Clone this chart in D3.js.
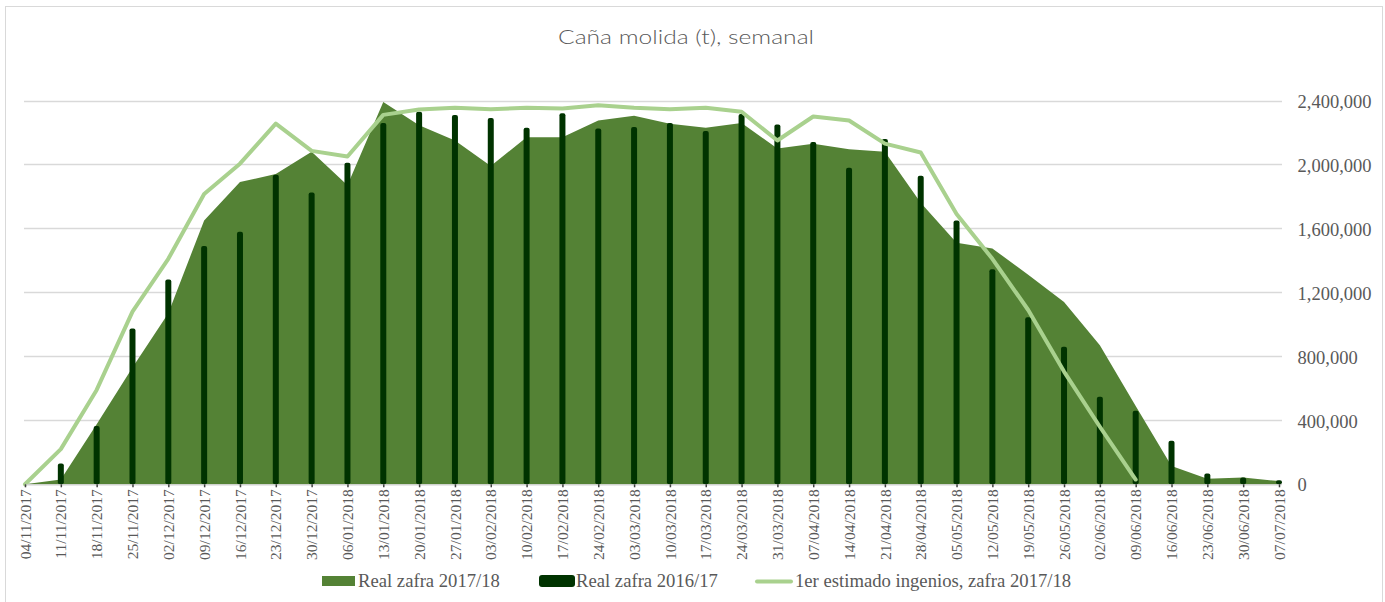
<!DOCTYPE html>
<html>
<head>
<meta charset="utf-8">
<script src="https://cdnjs.cloudflare.com/ajax/libs/d3/7.8.5/d3.min.js"></script>
<style>
  html, body { margin: 0; padding: 0; background: #ffffff; }
  svg { display: block; }
</style>
</head>
<body>
<svg id="chart" width="1385" height="602"></svg>
<script>
// ---------- DATA ----------
const categories = [
  "04/11/2017","11/11/2017","18/11/2017","25/11/2017","02/12/2017","09/12/2017","16/12/2017",
  "23/12/2017","30/12/2017","06/01/2018","13/01/2018","20/01/2018","27/01/2018","03/02/2018",
  "10/02/2018","17/02/2018","24/02/2018","03/03/2018","10/03/2018","17/03/2018","24/03/2018",
  "31/03/2018","07/04/2018","14/04/2018","21/04/2018","28/04/2018","05/05/2018","12/05/2018",
  "19/05/2018","26/05/2018","02/06/2018","09/06/2018","16/06/2018","23/06/2018","30/06/2018",
  "07/07/2018"
];
const real1718 = [
  0, 30000, 375000, 730000, 1070000, 1650000, 1890000, 1940000, 2080000, 1870000,
  2390000, 2245000, 2150000, 1990000, 2170000, 2170000, 2275000, 2305000, 2255000, 2230000,
  2260000, 2100000, 2130000, 2095000, 2080000, 1760000, 1510000, 1475000, 1310000, 1140000,
  870000, 490000, 115000, 35000, 42000, 20000
];
const real1617 = [
  0, 130000, 365000, 975000, 1280000, 1490000, 1580000, 1935000, 1825000, 2010000,
  2260000, 2330000, 2310000, 2290000, 2230000, 2320000, 2225000, 2235000, 2260000, 2210000,
  2315000, 2250000, 2140000, 1980000, 2160000, 1930000, 1650000, 1345000, 1045000, 860000,
  548000, 460000, 272000, 68000, 42000, 25000
];
const estimado = [
  0, 220000, 590000, 1080000, 1410000, 1815000, 2005000, 2255000, 2085000, 2050000,
  2310000, 2344000, 2355000, 2345000, 2355000, 2350000, 2370000, 2355000, 2345000, 2355000,
  2330000, 2150000, 2300000, 2275000, 2130000, 2075000, 1690000, 1410000, 1090000, 705000,
  360000, 30000, null, null, null, null
];
const yTicks = [0, 400000, 800000, 1200000, 1600000, 2000000, 2400000];
const seriesNames = ["Real zafra 2017/18", "Real zafra 2016/17", "1er estimado ingenios, zafra 2017/18"];
const titleText = "Caña molida (t), semanal";

// ---------- STYLE ----------
const C_AREA = "#548235", C_BAR = "#003300", C_LINE = "#a9d18e";
const C_GRID = "#d9d9d9", C_TEXT = "#595959";
const SERIF = "'Liberation Serif', 'Times New Roman', serif";

const svg = d3.select("#chart");

// outer border
svg.append("rect").attr("x", 5.5).attr("y", 6.5).attr("width", 1377).attr("height", 620)
  .attr("fill", "#fff").attr("stroke", C_GRID).attr("stroke-width", 1);

// title
svg.append("text").attr("x", 686).attr("y", 44).attr("text-anchor", "middle")
  .attr("font-family", "Lato, 'Open Sans', sans-serif").attr("font-weight", 300)
  .attr("font-size", 20).attr("fill", C_TEXT)
  .attr("textLength", 256).attr("lengthAdjust", "spacingAndGlyphs")
  .text(titleText);

// scales
const x = d3.scalePoint().domain(categories).range([25, 1279]);
const y = d3.scaleLinear().domain([0, 2400000]).range([484.3, 100.5]);

// gridlines
svg.append("g").selectAll("line").data(yTicks).join("line")
  .attr("x1", 24).attr("x2", 1282)
  .attr("y1", d => Math.round(y(d)) + 0.5).attr("y2", d => Math.round(y(d)) + 0.5)
  .attr("stroke", C_GRID).attr("stroke-width", 1.3);

// area
const area = d3.area()
  .x((d, i) => x(categories[i]))
  .y0(y(0)).y1(d => y(d));
svg.append("path").datum(real1718).attr("d", area).attr("fill", C_AREA);

// bars
const bw = 6;
svg.append("g").selectAll("rect").data(real1617).join("rect")
  .attr("x", (d, i) => x(categories[i]) - bw / 2)
  .attr("y", d => y(d))
  .attr("width", bw)
  .attr("height", d => Math.max(0, y(0) - y(d)))
  .attr("rx", d => d > 0 ? 2 : 0)
  .attr("fill", C_BAR);

// line
const line = d3.line()
  .defined(d => d !== null)
  .x((d, i) => x(categories[i]))
  .y(d => y(d));
svg.append("path").datum(estimado).attr("d", line)
  .attr("fill", "none").attr("stroke", C_LINE).attr("stroke-width", 4)
  .attr("stroke-linejoin", "round").attr("stroke-linecap", "round");

// x axis
const xAxis = svg.append("g").attr("transform", `translate(0,${y(0)})`)
  .call(d3.axisBottom(x).tickSize(3).tickSizeOuter(0));
xAxis.select(".domain").attr("stroke", C_GRID).attr("stroke-width", 1.3);
xAxis.selectAll(".tick line").attr("stroke", "#404040").attr("stroke-width", 1.5);
xAxis.selectAll(".tick text")
  .attr("transform", "rotate(-90)")
  .attr("text-anchor", "end")
  .attr("x", -5).attr("y", 0).attr("dy", "0.33em")
  .attr("font-family", SERIF).attr("font-size", 15.5).attr("fill", C_TEXT);

// y axis (right)
const yAxis = svg.append("g").attr("transform", "translate(1282,0)")
  .call(d3.axisRight(y).tickValues(yTicks).tickSize(0).tickPadding(15.5).tickFormat(d3.format(",")));
yAxis.select(".domain").remove();
yAxis.selectAll(".tick text").attr("font-family", SERIF).attr("font-size", 18.5)
  .attr("fill", C_TEXT).attr("dy", "0.36em");

// legend
const lg = svg.append("g").attr("font-family", SERIF).attr("font-size", 18.67).attr("fill", C_TEXT);
lg.append("rect").attr("x", 322).attr("y", 576).attr("width", 33).attr("height", 10).attr("fill", C_AREA);
lg.append("text").attr("x", 358).attr("y", 587).text(seriesNames[0]);
lg.append("rect").attr("x", 539).attr("y", 575).attr("width", 36).attr("height", 12).attr("rx", 3).attr("fill", C_BAR);
lg.append("text").attr("x", 576).attr("y", 587).text(seriesNames[1]);
lg.append("line").attr("x1", 757).attr("x2", 791).attr("y1", 581.5).attr("y2", 581.5)
  .attr("stroke", C_LINE).attr("stroke-width", 4).attr("stroke-linecap", "round");
lg.append("text").attr("x", 795).attr("y", 587).text(seriesNames[2]);
</script>
</body>
</html>
